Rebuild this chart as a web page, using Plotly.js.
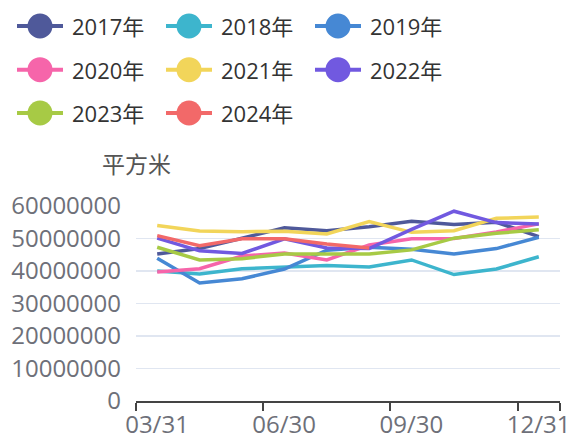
<!DOCTYPE html>
<html>
<head>
<meta charset="utf-8">
<script src="https://cdn.plot.ly/plotly-3.0.1.min.js"></script>
<style>html,body{margin:0;padding:0;background:#fff;}#chart{width:571px;height:441px;}</style>
</head>
<body>
<div id="chart"></div>
<script>
var categories = ['03/31','04/30','05/31','06/30','07/31','08/31','09/30','10/31','11/30','12/31'];
var tickLabels = ['03/31','06/30','09/30','12/31'];
var seriesNames = ['2017年','2018年','2019年','2020年','2021年','2022年','2023年','2024年'];
var seriesColors = ['#4F599A','#3DB5CD','#4688D4','#F665AA','#F2D55A','#7159E0','#A7CA45','#F26969'];
var s2017 = [45200000, 46900000, 50100000, 53300000, 52400000, 53600000, 55300000, 54300000, 55000000, 50600000];
var s2018 = [40000000, 39100000, 40700000, 41300000, 41700000, 41200000, 43400000, 38900000, 40600000, 44400000];
var s2019 = [43900000, 36300000, 37600000, 40600000, 46400000, 47300000, 46700000, 45200000, 46900000, 50400000];
var s2020 = [39700000, 40700000, 44600000, 45500000, 43400000, 48000000, 49900000, 50000000, 52000000, 54500000];
var s2021 = [54000000, 52300000, 52100000, 52200000, 51400000, 55200000, 51900000, 52400000, 56200000, 56600000];
var s2022 = [50100000, 46200000, 45400000, 49900000, 47100000, 46900000, 52800000, 58400000, 54900000, 54500000];
var s2023 = [47300000, 43400000, 43800000, 45200000, 45200000, 45200000, 46500000, 50100000, 51600000, 52700000];
var s2024 = [50900000, 47800000, 49900000, 49900000, 48300000, 47100000];
var seriesValues = [s2017, s2018, s2019, s2020, s2021, s2022, s2023, s2024];

var W = 571, H = 441;
var mL = 136, mR = 11, mT = 206, mB = 40;
var pw = W - mL - mR, ph = H - mT - mB;
function px(x){ return (x - mL) / pw; }
function py(y){ return (H - mB - y) / ph; }

var FONT = '"Open Sans", "Noto Sans CJK SC", sans-serif';

var traces = seriesValues.map(function(vals, i){
  return {
    type: 'scatter', mode: 'lines', name: seriesNames[i],
    x: vals.map(function(v, j){ return j; }),
    y: vals,
    text: categories.slice(0, vals.length),
    line: {color: seriesColors[i], width: 3.5},
    showlegend: false,
    hoverinfo: 'text+y+name'
  };
});

// tick marks at category boundaries, labels shifted to category centres
var tickVals = tickLabels.map(function(t){ return categories.indexOf(t) - 0.5; });
tickVals.push(categories.length - 0.5);
var tickText = tickLabels.slice(); tickText.push('');

// custom legend (echarts-like line + big circle icons)
var shapes = [], annotations = [];
var colX = [0, 149, 298], rowY = [26, 69.7, 113];
seriesNames.forEach(function(n, i){
  var c = i % 3, r = Math.floor(i / 3);
  var x0 = 17 + colX[c], yc = rowY[r];
  shapes.push({type:'line', xref:'paper', yref:'paper', x0:px(x0), x1:px(x0+46), y0:py(yc), y1:py(yc),
    line:{color:seriesColors[i], width:4}});
  shapes.push({type:'circle', xref:'paper', yref:'paper', x0:px(x0+23-12.5), x1:px(x0+23+12.5),
    y0:py(yc+12.5), y1:py(yc-12.5), fillcolor:seriesColors[i], line:{width:0}});
  annotations.push({xref:'paper', yref:'paper', x:px(x0+53), y:py(yc), xanchor:'left', yanchor:'middle',
    text:n, showarrow:false, font:{family:FONT, size:22, color:'#333333'}});
});
annotations.push({xref:'paper', yref:'paper', x:0, y:py(163), xanchor:'center', yanchor:'middle',
  text:'平方米', showarrow:false, font:{family:'"Noto Sans CJK SC", sans-serif', size:23, color:'#555555'}});

var layout = {
  width: W, height: H,
  margin: {l: mL, r: mR, t: mT, b: mB, pad: 0},
  paper_bgcolor: '#ffffff', plot_bgcolor: '#ffffff',
  font: {family: FONT},
  showlegend: false,
  xaxis: {
    range: [-0.5, categories.length - 0.5],
    tickmode: 'array', tickvals: tickVals, ticktext: tickText,
    ticklabelshift: 21, ticklabelstandoff: -7,
    ticks: 'outside', ticklen: 8, tickwidth: 2, tickcolor: '#444444',
    showline: true, linecolor: '#444444', linewidth: 2,
    showgrid: false, zeroline: false,
    tickfont: {family: FONT, size: 24, color: '#6E7079'}
  },
  yaxis: {
    range: [0, 60000000],
    tickmode: 'linear', tick0: 0, dtick: 10000000, tickformat: 'd',
    ticks: '', ticklabelstandoff: 14,
    showline: false, zeroline: false,
    showgrid: true, gridcolor: '#E0E6F1', gridwidth: 1.5,
    tickfont: {family: FONT, size: 24, color: '#6E7079'}
  },
  shapes: shapes,
  annotations: annotations
};

Plotly.newPlot('chart', traces, layout, {displayModeBar: false, staticPlot: true});
</script>
</body>
</html>
